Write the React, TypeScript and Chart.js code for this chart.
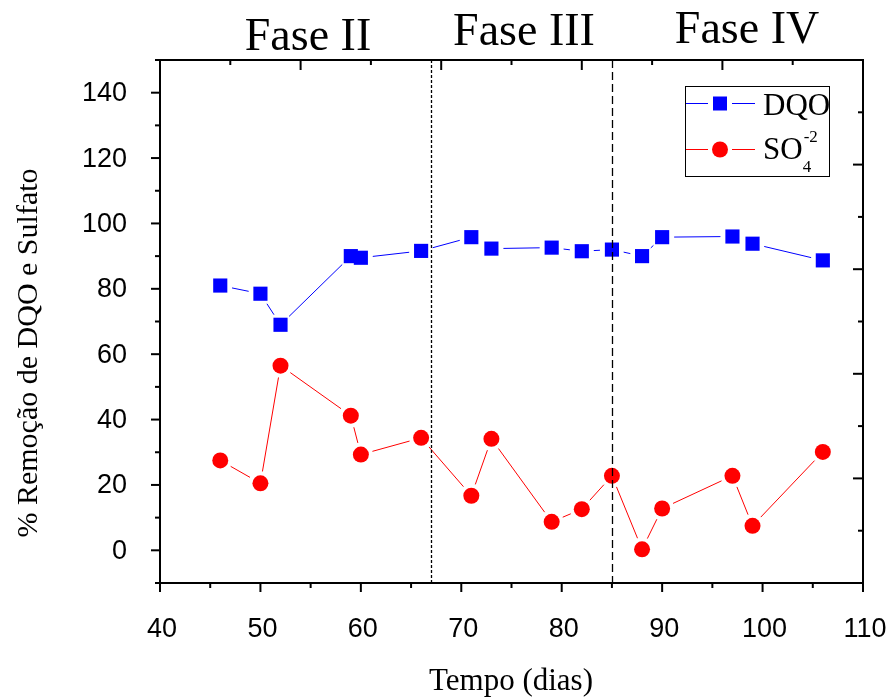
import React, { useEffect, useRef } from "react";
import { Chart, registerables } from "chart.js";

Chart.register(...registerables);

// ---- data ----
const days = [46, 50, 52, 59, 60, 66, 71, 73, 79, 82, 85, 88, 90, 97, 99, 106];
const dqoRemoval = [81, 78.5, 69, 90, 89.5, 91.6, 95.8, 92.3, 92.6, 91.5, 92, 90, 95.8, 96, 93.8, 88.7];
const sulfateRemoval = [27.5, 20.5, 56.5, 41.2, 29.3, 34.4, 16.7, 34.1, 8.7, 12.6, 22.8, 0.3, 12.8, 22.8, 7.5, 30.1];

const phaseBoundaries = [67, 85];
const phaseBoundaryDashes = [[3, 2], [8, 4]];
const phaseLabels = ["Fase II", "Fase III", "Fase IV"];

const xMajorTicks = [40, 50, 60, 70, 80, 90, 100, 110];
const xMinorTicks = [45, 55, 65, 75, 85, 95, 105];
const yMajorTicks = [0, 20, 40, 60, 80, 100, 120, 140];
const yMinorTicks = [-10, 10, 30, 50, 70, 90, 110, 130, 150];
const topMajorTicks = [40, 54, 68, 82, 96, 110];
const topMinorTicks = [47, 61, 75, 89, 103];
const rightMajorTicks = [-10, 22, 54, 86, 118, 150];
const rightMinorTicks = [6, 38, 70, 102, 134];

const xTitle = "Tempo (dias)";
const yTitle = "% Remoção de DQO e Sulfato";

const BLUE = "#0000ff";
const RED = "#ff0000";
const SERIF = "'Liberation Serif', 'Times New Roman', serif";
const SANS = "'Liberation Sans', Arial, sans-serif";
const GAP = 12;

const decorPlugin = {
  id: "decor",
  beforeDatasetsDraw(chart: any) {
    const ctx = chart.ctx;
    chart.data.datasets.forEach((ds: any, i: number) => {
      const meta = chart.getDatasetMeta(i);
      const pts = meta.data;
      ctx.save();
      ctx.strokeStyle = ds.lineColor;
      ctx.lineWidth = 1;
      for (let k = 0; k < pts.length - 1; k++) {
        const a = pts[k];
        const b = pts[k + 1];
        const dx = b.x - a.x;
        const dy = b.y - a.y;
        const len = Math.hypot(dx, dy);
        if (len <= 2 * GAP) continue;
        const ux = dx / len;
        const uy = dy / len;
        ctx.beginPath();
        ctx.moveTo(a.x + ux * GAP, a.y + uy * GAP);
        ctx.lineTo(b.x - ux * GAP, b.y - uy * GAP);
        ctx.stroke();
      }
      ctx.restore();
    });
  },
  afterDatasetsDraw(chart: any) {
    const ctx = chart.ctx;
    const xs = chart.scales.x;
    const ys = chart.scales.y;
    const { left, right, top, bottom } = chart.chartArea;

    // phase boundaries
    ctx.save();
    ctx.strokeStyle = "#000";
    ctx.lineWidth = 1.3;
    phaseBoundaries.forEach((v, i) => {
      const px = Math.round(xs.getPixelForValue(v)) + 0.5;
      ctx.setLineDash(phaseBoundaryDashes[i]);
      ctx.beginPath();
      ctx.moveTo(px, top);
      ctx.lineTo(px, bottom);
      ctx.stroke();
    });
    ctx.setLineDash([]);
    ctx.restore();

    // frame
    ctx.save();
    ctx.strokeStyle = "#000";
    ctx.lineWidth = 2;
    ctx.beginPath();
    ctx.rect(left, top, right - left, bottom - top);
    ctx.stroke();

    const tick = (x1: number, y1: number, x2: number, y2: number) => {
      ctx.beginPath();
      ctx.moveTo(x1, y1);
      ctx.lineTo(x2, y2);
      ctx.stroke();
    };
    xMajorTicks.forEach((v) => { const p = xs.getPixelForValue(v); tick(p, bottom, p, bottom + 9); });
    xMinorTicks.forEach((v) => { const p = xs.getPixelForValue(v); tick(p, bottom, p, bottom + 5); });
    topMajorTicks.forEach((v) => { const p = xs.getPixelForValue(v); tick(p, top, p, top + 10); });
    topMinorTicks.forEach((v) => { const p = xs.getPixelForValue(v); tick(p, top, p, top + 5); });
    yMajorTicks.forEach((v) => { const p = ys.getPixelForValue(v); tick(left, p, left - 9, p); });
    yMinorTicks.forEach((v) => { const p = ys.getPixelForValue(v); tick(left, p, left - 5, p); });
    rightMajorTicks.forEach((v) => { const p = ys.getPixelForValue(v); tick(right, p, right - 10, p); });
    rightMinorTicks.forEach((v) => { const p = ys.getPixelForValue(v); tick(right, p, right - 5, p); });
    ctx.restore();
  },
  afterDraw(chart: any) {
    const ctx = chart.ctx;
    const xs = chart.scales.x;
    const ys = chart.scales.y;
    const { left, bottom } = chart.chartArea;
    ctx.save();
    ctx.fillStyle = "#000";

    // tick labels
    ctx.font = `27px ${SANS}`;
    ctx.textAlign = "center";
    ctx.textBaseline = "middle";
    xMajorTicks.forEach((v) => ctx.fillText(String(v), xs.getPixelForValue(v) + 2, bottom + 47));
    ctx.textAlign = "right";
    yMajorTicks.forEach((v) => ctx.fillText(String(v), left - 33, ys.getPixelForValue(v) + 1));

    // axis titles
    ctx.font = `31px ${SERIF}`;
    ctx.textAlign = "center";
    ctx.textBaseline = "alphabetic";
    ctx.fillText(xTitle, 511, 690);

    ctx.save();
    ctx.font = `30px ${SERIF}`;
    ctx.textAlign = "center";
    ctx.textBaseline = "alphabetic";
    ctx.translate(37, 353);
    ctx.rotate(-Math.PI / 2);
    ctx.fillText(yTitle, 0, 0);
    ctx.restore();

    // phase titles
    ctx.font = `46px ${SERIF}`;
    ctx.textAlign = "center";
    ctx.textBaseline = "alphabetic";
    ctx.fillText(phaseLabels[0], 308, 50);
    ctx.fillText(phaseLabels[1], 524, 45);
    ctx.fillText(phaseLabels[2], 747, 43);

    // legend
    const lx = 685.5, ly = 86.5, lw = 144, lh = 90;
    ctx.strokeStyle = "#000";
    ctx.lineWidth = 1;
    ctx.strokeRect(lx, ly, lw, lh);
    const rows = [
      { y: 103.5, color: BLUE, shape: "square" },
      { y: 149.5, color: RED, shape: "circle" },
    ];
    rows.forEach((r) => {
      ctx.strokeStyle = r.color;
      ctx.lineWidth = 1;
      ctx.beginPath();
      ctx.moveTo(686, r.y);
      ctx.lineTo(720 - GAP, r.y);
      ctx.moveTo(720 + GAP, r.y);
      ctx.lineTo(755, r.y);
      ctx.stroke();
      ctx.fillStyle = r.color;
      if (r.shape === "square") {
        ctx.fillRect(720 - 7, r.y - 7, 14, 14);
      } else {
        ctx.beginPath();
        ctx.arc(720, r.y, 8, 0, Math.PI * 2);
        ctx.fill();
      }
    });
    ctx.fillStyle = "#000";
    ctx.textAlign = "left";
    ctx.textBaseline = "alphabetic";
    ctx.font = `31px ${SERIF}`;
    ctx.fillText("DQO", 763, 115);
    ctx.fillText("SO", 763, 159);
    const soW = ctx.measureText("SO").width;
    ctx.font = `17px ${SERIF}`;
    ctx.fillText("4", 763 + soW, 172);
    ctx.fillText("-2", 763 + soW + 1, 142);

    ctx.restore();
  },
};

export default function App() {
  const canvasRef = useRef<HTMLCanvasElement | null>(null);

  useEffect(() => {
    const canvas = canvasRef.current;
    if (!canvas) return;
    const chart = new Chart(canvas, {
      type: "scatter",
      data: {
        datasets: [
          {
            label: "DQO",
            data: days.map((d, i) => ({ x: d, y: dqoRemoval[i] })),
            showLine: false,
            pointStyle: "rect",
            pointRadius: 10,
            pointHoverRadius: 10,
            pointBackgroundColor: BLUE,
            pointBorderWidth: 0,
            backgroundColor: BLUE,
            borderColor: BLUE,
            lineColor: BLUE,
          } as any,
          {
            label: "SO4-2",
            data: days.map((d, i) => ({ x: d, y: sulfateRemoval[i] })),
            showLine: false,
            pointStyle: "circle",
            pointRadius: 8,
            pointHoverRadius: 8,
            pointBackgroundColor: RED,
            pointBorderWidth: 0,
            backgroundColor: RED,
            borderColor: RED,
            lineColor: RED,
          } as any,
        ],
      },
      options: {
        animation: false,
        responsive: false,
        devicePixelRatio: 1,
        events: [],
        layout: { padding: { left: 160, right: 30, top: 60, bottom: 114 } },
        plugins: {
          legend: { display: false },
          tooltip: { enabled: false },
          title: { display: false },
        },
        scales: {
          x: { type: "linear", min: 40, max: 110, display: false },
          y: { type: "linear", min: -10, max: 150, display: false },
        },
      },
      plugins: [decorPlugin],
    });
    return () => chart.destroy();
  }, []);

  return (
    <div style={{ position: "absolute", left: 0, top: 0, width: 893, height: 697, background: "#fff" }}>
      <canvas ref={canvasRef} width={893} height={697} style={{ display: "block" }} />
    </div>
  );
}
